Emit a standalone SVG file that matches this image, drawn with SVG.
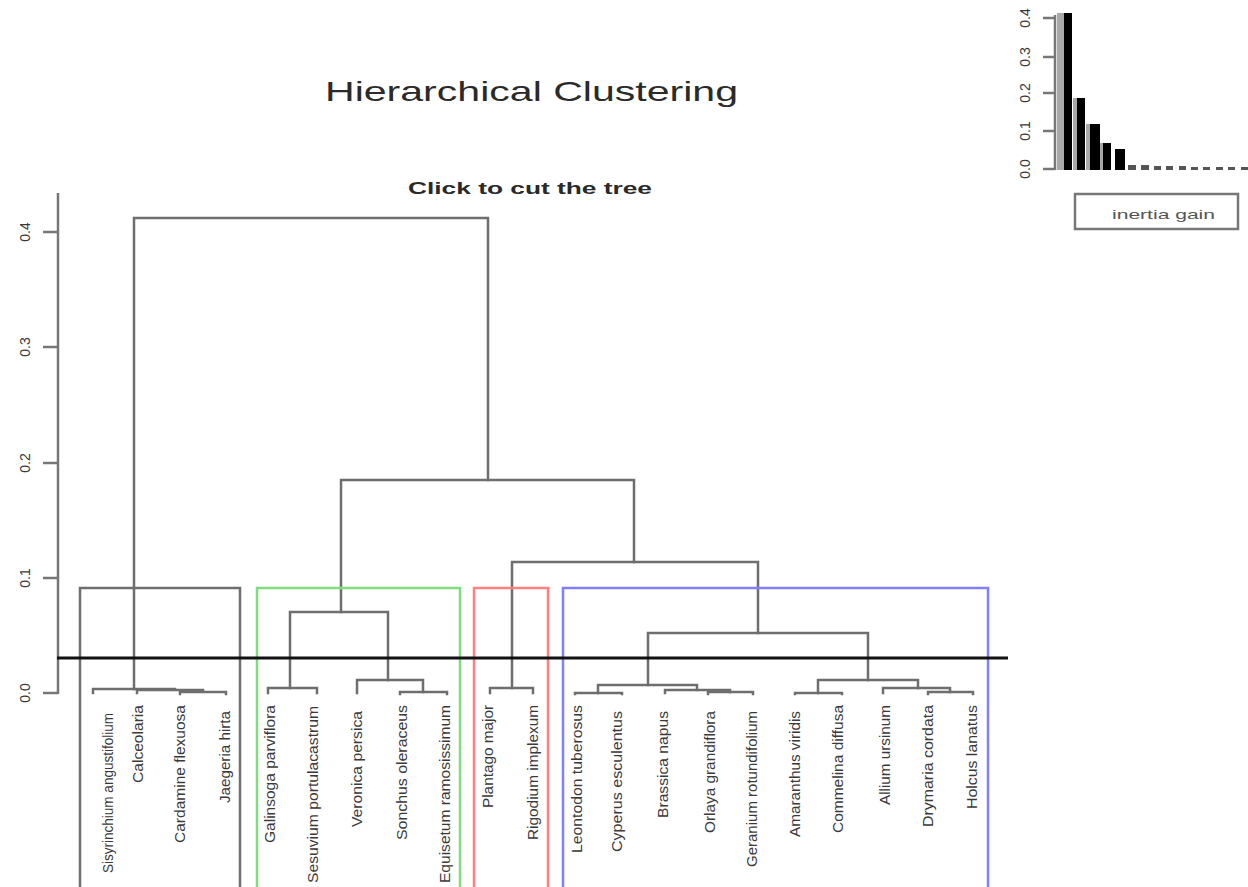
<svg xmlns="http://www.w3.org/2000/svg" width="1248" height="887" viewBox="0 0 1248 887">
<style>
.t{font-family:"Liberation Sans",Arial,sans-serif;fill:#2a2a2a}
.lbl{font-family:"Liberation Sans",Arial,sans-serif;font-size:14px;fill:#3a3a3a}
.ax{font-family:"Liberation Sans",Arial,sans-serif;font-size:14px;fill:#3a3a3a;text-anchor:middle}
.seg{fill:none;stroke:#6e6e6e;stroke-width:2.5;stroke-linecap:square}
.axis{fill:none;stroke:#777;stroke-width:2.5}
.box{fill:none;stroke-width:2.5}
</style>
<rect width="1248" height="887" fill="#fff"/>
<g id="titles">
<text class="t" x="325" y="101" font-size="28" textLength="413" lengthAdjust="spacingAndGlyphs">Hierarchical Clustering</text>
<text class="t" x="408" y="194" font-size="16" font-weight="bold" textLength="244" lengthAdjust="spacingAndGlyphs">Click to cut the tree</text>
</g>
<g id="y-axis">
<path class="axis" d="M58,193V694M43,232H58M43,347H58M43,463H58M43,578H58M43,693H58"/>
<text class="ax" transform="translate(30,232) rotate(-90)">0.4</text>
<text class="ax" transform="translate(30,347) rotate(-90)">0.3</text>
<text class="ax" transform="translate(30,463) rotate(-90)">0.2</text>
<text class="ax" transform="translate(30,578) rotate(-90)">0.1</text>
<text class="ax" transform="translate(30,693) rotate(-90)">0.0</text>
</g>
<g id="connectors">
<path class="seg" d="M134,689V218H488V480"/>
<path class="seg" d="M341,612V480H634V562"/>
<path class="seg" d="M93,693V689H175V690M137,693V690H203V692M180,694V692H226V694"/>
<path class="seg" d="M290,688V612H388V680"/>
<path class="seg" d="M268,693V688H317V693"/>
<path class="seg" d="M357,693V680H423V692"/>
<path class="seg" d="M400,694V692H447V694"/>
<path class="seg" d="M512,688V562H758V633"/>
<path class="seg" d="M490,693V688H533V693"/>
<path class="seg" d="M648,685V633H868V680"/>
<path class="seg" d="M598,693V685H697V690"/>
<path class="seg" d="M575,694V693H622V694"/>
<path class="seg" d="M665,693V690H730V692"/>
<path class="seg" d="M708,694V692H753V694"/>
<path class="seg" d="M818,693V680H918V688"/>
<path class="seg" d="M795,694V693H842V694"/>
<path class="seg" d="M883,693V688H950V692"/>
<path class="seg" d="M928,694V692H973V694"/>
</g>
<g id="cluster-boxes">
<path id="box-black" class="box" stroke="#6f6f6f" d="M80,887V588H240V887"/>
<path id="box-green" class="box" stroke="#7fdc7f" d="M257,887V588H460V887"/>
<path id="box-red" class="box" stroke="#ff8080" d="M474,887V588H548V887"/>
<path id="box-blue" class="box" stroke="#8080ff" d="M563,887V588H988V887"/>
</g>
<g id="cut-line"><path d="M57,658H1008" stroke="#111" stroke-width="3"/></g>
<g id="leaves">
<g id="leaf-sisyrinchium"><text class="lbl" text-anchor="end" transform="translate(112.5,713) rotate(-90)" textLength="160" lengthAdjust="spacingAndGlyphs">Sisyrinchium angustifolium</text></g>
<g id="leaf-calceolaria"><text class="lbl" text-anchor="end" transform="translate(142.5,705) rotate(-90)" textLength="78" lengthAdjust="spacingAndGlyphs">Calceolaria</text></g>
<g id="leaf-cardamine"><text class="lbl" text-anchor="end" transform="translate(184.5,705) rotate(-90)" textLength="138" lengthAdjust="spacingAndGlyphs">Cardamine flexuosa</text></g>
<g id="leaf-jaegeria"><text class="lbl" text-anchor="end" transform="translate(229.5,711) rotate(-90)" textLength="92" lengthAdjust="spacingAndGlyphs">Jaegeria hirta</text></g>
<g id="leaf-galinsoga"><text class="lbl" text-anchor="end" transform="translate(274.5,705) rotate(-90)" textLength="138" lengthAdjust="spacingAndGlyphs">Galinsoga parviflora</text></g>
<g id="leaf-sesuvium"><text class="lbl" text-anchor="end" transform="translate(317.5,706) rotate(-90)" textLength="177" lengthAdjust="spacingAndGlyphs">Sesuvium portulacastrum</text></g>
<g id="leaf-veronica"><text class="lbl" text-anchor="end" transform="translate(361.5,711) rotate(-90)" textLength="116" lengthAdjust="spacingAndGlyphs">Veronica persica</text></g>
<g id="leaf-sonchus"><text class="lbl" text-anchor="end" transform="translate(406.5,705) rotate(-90)" textLength="135" lengthAdjust="spacingAndGlyphs">Sonchus oleraceus</text></g>
<g id="leaf-equisetum"><text class="lbl" text-anchor="end" transform="translate(449.5,705) rotate(-90)" textLength="178" lengthAdjust="spacingAndGlyphs">Equisetum ramosissimum</text></g>
<g id="leaf-plantago"><text class="lbl" text-anchor="end" transform="translate(492.5,705) rotate(-90)" textLength="103" lengthAdjust="spacingAndGlyphs">Plantago major</text></g>
<g id="leaf-rigodium"><text class="lbl" text-anchor="end" transform="translate(537.5,705) rotate(-90)" textLength="135" lengthAdjust="spacingAndGlyphs">Rigodium implexum</text></g>
<g id="leaf-leontodon"><text class="lbl" text-anchor="end" transform="translate(581.5,705) rotate(-90)" textLength="148" lengthAdjust="spacingAndGlyphs">Leontodon tuberosus</text></g>
<g id="leaf-cyperus"><text class="lbl" text-anchor="end" transform="translate(621.5,711) rotate(-90)" textLength="141" lengthAdjust="spacingAndGlyphs">Cyperus esculentus</text></g>
<g id="leaf-brassica"><text class="lbl" text-anchor="end" transform="translate(667.5,711) rotate(-90)" textLength="107" lengthAdjust="spacingAndGlyphs">Brassica napus</text></g>
<g id="leaf-orlaya"><text class="lbl" text-anchor="end" transform="translate(714.5,711) rotate(-90)" textLength="122" lengthAdjust="spacingAndGlyphs">Orlaya grandiflora</text></g>
<g id="leaf-geranium"><text class="lbl" text-anchor="end" transform="translate(756.5,711) rotate(-90)" textLength="156" lengthAdjust="spacingAndGlyphs">Geranium rotundifolium</text></g>
<g id="leaf-amaranthus"><text class="lbl" text-anchor="end" transform="translate(799.5,711) rotate(-90)" textLength="126" lengthAdjust="spacingAndGlyphs">Amaranthus viridis</text></g>
<g id="leaf-commelina"><text class="lbl" text-anchor="end" transform="translate(842.5,705) rotate(-90)" textLength="128" lengthAdjust="spacingAndGlyphs">Commelina diffusa</text></g>
<g id="leaf-allium"><text class="lbl" text-anchor="end" transform="translate(889.5,705) rotate(-90)" textLength="100" lengthAdjust="spacingAndGlyphs">Allium ursinum</text></g>
<g id="leaf-drymaria"><text class="lbl" text-anchor="end" transform="translate(932.5,705) rotate(-90)" textLength="122" lengthAdjust="spacingAndGlyphs">Drymaria cordata</text></g>
<g id="leaf-holcus"><text class="lbl" text-anchor="end" transform="translate(976.5,705) rotate(-90)" textLength="104" lengthAdjust="spacingAndGlyphs">Holcus lanatus</text></g>
</g>
<g id="inertia-barplot">
<path class="axis" d="M1055,15V170M1043,18H1055M1043,57H1055M1043,93H1055M1043,131H1055M1043,169H1055"/>
<text class="ax" transform="translate(1030,18) rotate(-90)">0.4</text>
<text class="ax" transform="translate(1030,57) rotate(-90)">0.3</text>
<text class="ax" transform="translate(1030,93) rotate(-90)">0.2</text>
<text class="ax" transform="translate(1030,131) rotate(-90)">0.1</text>
<text class="ax" transform="translate(1030,169) rotate(-90)">0.0</text>
<g fill="#a8a8a8">
<rect x="1057" y="13" width="9" height="157"/>
<rect x="1073" y="98" width="5" height="72"/>
<rect x="1086" y="124" width="5" height="46"/>
<rect x="1099" y="143" width="5" height="27"/>
</g>
<g fill="#000">
<rect x="1064" y="13" width="8" height="157"/>
<rect x="1077" y="98" width="8" height="72"/>
<rect x="1090" y="124" width="10" height="46"/>
<rect x="1103" y="143" width="8" height="27"/>
<rect x="1115" y="149" width="10" height="21"/>
</g>
<g fill="#555">
<rect x="1128" y="165" width="8" height="5"/>
<rect x="1141" y="165" width="8" height="5"/>
<rect x="1154" y="166" width="7" height="4"/>
<rect x="1166" y="166" width="7" height="4"/>
<rect x="1179" y="166" width="7" height="4"/>
<rect x="1191" y="167" width="7" height="3"/>
<rect x="1203" y="167" width="7" height="3"/>
<rect x="1216" y="167" width="7" height="3"/>
<rect x="1228" y="167" width="7" height="3"/>
<rect x="1241" y="167" width="7" height="3"/>
</g>
<rect x="1075" y="194" width="163" height="35" fill="#fff" stroke="#777" stroke-width="2.5"/>
<text class="t" x="1112" y="219" font-size="13" fill="#555" textLength="103" lengthAdjust="spacingAndGlyphs" style="fill:#555">inertia gain</text>
</g>
</svg>
